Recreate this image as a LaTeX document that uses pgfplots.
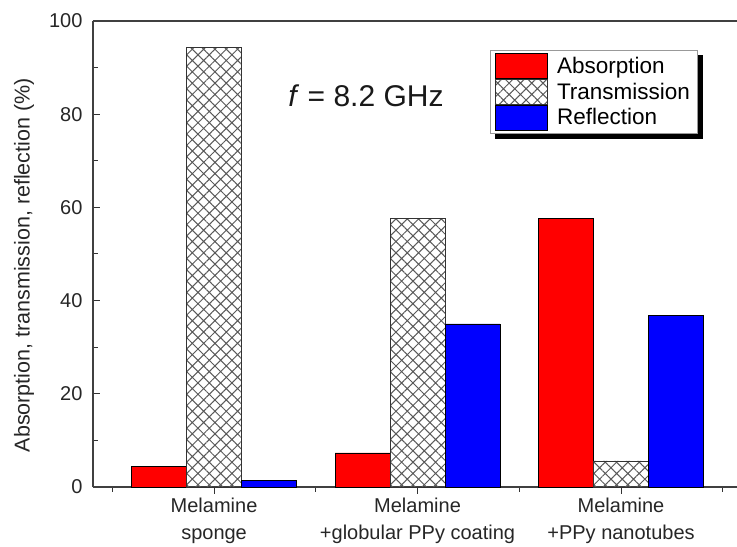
\documentclass[border=0pt]{standalone}
\usepackage{pgfplots}
\pgfplotsset{compat=1.18}
\usepackage{fontspec}
\setmainfont{Liberation Sans}
\usetikzlibrary{patterns.meta}
\begin{document}
\begin{tikzpicture}
\begin{axis}[
  at={(0,0)}, anchor=south west,
  width=644bp, height=466bp, scale only axis,
  xmin=0.405, xmax=3.57, ymin=0, ymax=100,
  axis lines*=left,
  axis line style={line width=1.2bp, black!75},
  every tick/.style={line width=1bp, black!80},
  xtick={1,2,3},
  minor xtick={0.5,1.5,2.5,3.5},
  xticklabels={{Melamine\\sponge},{Melamine\\+globular PPy coating},{Melamine\\+PPy nanotubes}},
  xtick align=outside,
  ytick={0,20,...,100},
  minor ytick={10,30,...,90},
  ytick align=inside,
  major tick length=7bp, minor tick length=5bp,
  /pgf/number format/assume math mode=true,
  tick label style={font=\fontsize{20bp}{27bp}\selectfont, black!85},
  xticklabel style={align=center},
  yticklabel style={xshift=-7bp},
  ylabel={Absorption, transmission, reflection (\%)},
  every axis y label/.style={at={(axis description cs:-0.107,0.476)}, rotate=90, anchor=center, font=\fontsize{21.5bp}{24bp}\selectfont, black!85},
  legend image code/.code={\draw[#1] (0bp,-12.5bp) rectangle (52bp,12.5bp);},
  legend cell align=left,
  legend style={name=leg, at={(axis description cs:0.6165,0.9378)}, anchor=north west,
    draw=black!40, line width=0.8bp, fill=white,
    font=\fontsize{22.5bp}{26bp}\selectfont, row sep=0bp, column sep=7bp, inner xsep=5bp, inner ysep=3bp},
]
\addplot[ybar, bar width=0.27, bar shift=-0.27, fill=red, draw=black, line width=0.6bp]
  coordinates {(1,4.5) (2,7.3) (3,57.7)};
\addlegendentry{Absorption}
\addplot[ybar, bar width=0.27, bar shift=0, draw=black!80, line width=0.6bp,
  pattern={Hatch[angle=45, distance=8bp, line width=1bp]}, pattern color=black!65]
  coordinates {(1,94.4) (2,57.7) (3,5.6)};
\addlegendentry{Transmission}
\addplot[ybar, bar width=0.27, bar shift=0.27, fill=blue, draw=black, line width=0.6bp]
  coordinates {(1,1.5) (2,35.0) (3,36.9)};
\addlegendentry{Reflection}
\draw[line width=1.2bp, black!75] (rel axis cs:0,1) -- (rel axis cs:1,1);
\node[font=\fontsize{30bp}{34bp}\selectfont, black!90] at (rel axis cs:0.424,0.840) {\textit{f} = 8.2 GHz};
\end{axis}
\fill[black] ([xshift=0.4bp,yshift=-5bp]leg.north east) rectangle ([xshift=5.4bp,yshift=-5.4bp]leg.south east);
\fill[black] ([xshift=5bp,yshift=-0.4bp]leg.south west) rectangle ([xshift=5.4bp,yshift=-5.4bp]leg.south east);
\pgfresetboundingbox
\useasboundingbox (-93bp,-60bp) rectangle (644bp,487bp);
\end{tikzpicture}
\end{document}
